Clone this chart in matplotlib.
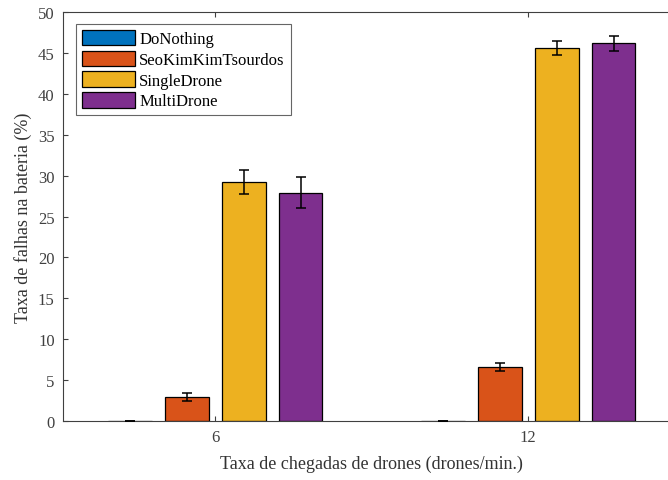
import numpy as np
import matplotlib.pyplot as plt

plt.rcParams["font.family"] = ["Liberation Serif", "DejaVu Serif"]
plt.rcParams["font.size"] = 10

# -----------------------------
# Data
# -----------------------------
rates = ["6", "12"]
methods = ["DoNothing", "SeoKimKimTsourdos", "SingleDrone", "MultiDrone"]
colors = ["#0072BD", "#D95319", "#EDB120", "#7E2F8E"]

do_nothing = [0.0, 0.0]
do_nothing_err = [0.0, 0.0]
seokim = [2.95, 6.65]
seokim_err = [0.5, 0.5]
single_drone = [29.2, 45.6]
single_drone_err = [1.45, 0.9]
multi_drone = [27.9, 46.2]
multi_drone_err = [1.9, 0.9]

means = [do_nothing, seokim, single_drone, multi_drone]
errs = [do_nothing_err, seokim_err, single_drone_err, multi_drone_err]

axis_gray = "#404040"

# -----------------------------
# Figure
# -----------------------------
fig = plt.figure(figsize=(6.68, 4.81), dpi=100)
ax = fig.add_axes([0.0943, 0.1227, 0.924, 0.850])

x = np.arange(1, len(rates) + 1)
width = 0.14
offsets = np.array([-1.5, -0.5, 0.5, 1.5]) * 0.182

for m, c, off, vals, ee in zip(methods, colors, offsets, means, errs):
    ax.bar(x + off, vals, width, color=c, edgecolor="black", linewidth=0.9,
           label=m, zorder=2)
    ax.errorbar(x + off, vals, yerr=ee, fmt="none", ecolor="black",
                elinewidth=1.1, capsize=3.6, capthick=1.1, zorder=3,
                clip_on=False)

ax.set_xlim(0.514, 2.486)
ax.set_ylim(0, 50)
ax.set_yticks(np.arange(0, 51, 5))
ax.set_xticks(x)
ax.set_xticklabels(rates)

ax.tick_params(direction="in", top=True, right=True, labelsize=12,
               length=3.5, color=axis_gray, labelcolor=axis_gray, pad=6)
for sp in ax.spines.values():
    sp.set_color(axis_gray)
    sp.set_linewidth(0.8)

ax.set_xlabel("Taxa de chegadas de drones (drones/min.)", fontsize=13,
              color="#333333", labelpad=7)
ax.set_ylabel("Taxa de falhas na bateria (%)", fontsize=13,
              color="#333333", labelpad=4)

leg = ax.legend(loc="upper left", bbox_to_anchor=(0.021, 0.971), fontsize=12,
                frameon=True, fancybox=False, edgecolor=axis_gray,
                handlelength=3.2, handleheight=1.05, handletextpad=0.25,
                labelspacing=0.2, borderpad=0.35, borderaxespad=0.0)
leg.get_frame().set_linewidth(0.8)

plt.savefig("out.png", dpi=100)
